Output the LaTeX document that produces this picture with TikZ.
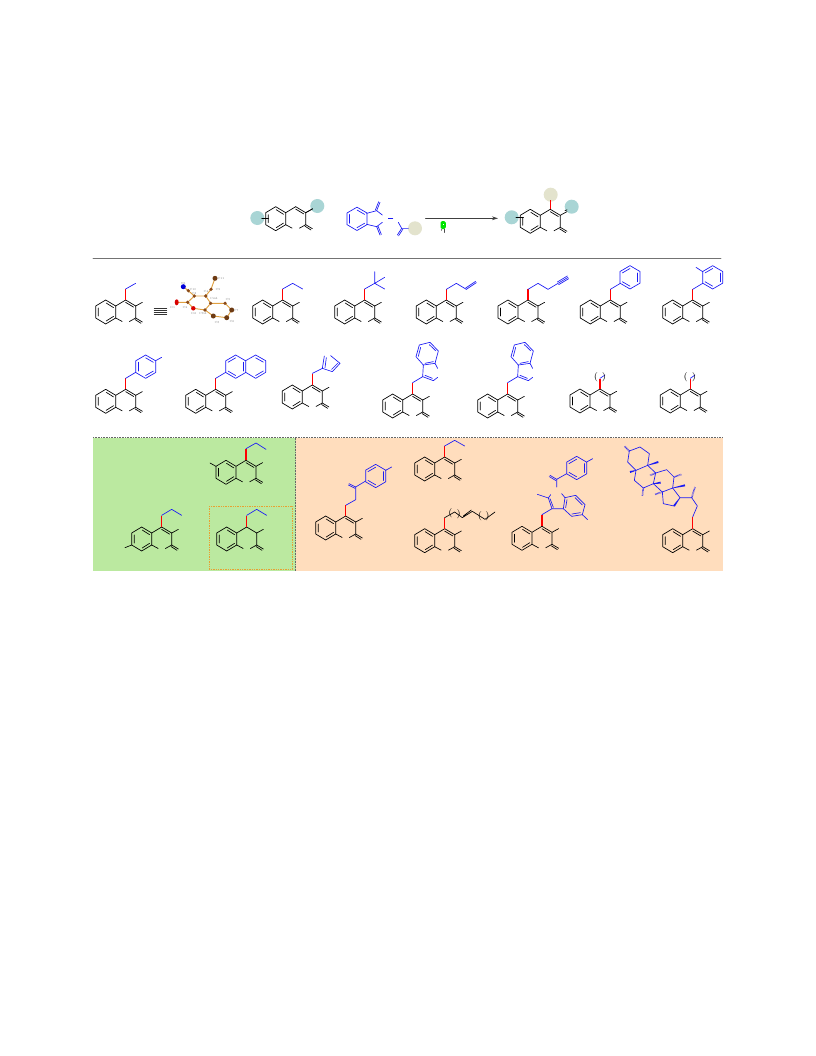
\documentclass[tikz,border=0pt]{standalone}
\usetikzlibrary{arrows.meta,calc}
\definecolor{tealc}{HTML}{A9D5D5}
\definecolor{beigec}{HTML}{E3E3CD}
\definecolor{panelg}{HTML}{BBE9A0}
\definecolor{panelo}{HTML}{FFDDBD}
\definecolor{bluec}{HTML}{1A1AF5}
\definecolor{redc}{HTML}{FF0000}
\definecolor{bondc}{HTML}{E0A040}
\definecolor{atomc}{HTML}{8A4A18}
\definecolor{boxc}{HTML}{E8A030}
\tikzset{
  zz/.style args={#1,#2}{shift={(#1,#2)},x=.25pt,y=-.25pt},
  sub/.style={bluec},
  hashb/.style={bluec,line width=1.2pt,line cap=butt,dash pattern=on .35pt off .55pt},
  crys/.style={bondc,line width=.7pt},
  lab/.style={font=\fontsize{2.2}{2.2}\selectfont,text=gray,inner sep=0pt},
  par/.style={font=\fontsize{7}{7}\selectfont,inner sep=0pt},
}
\newcommand\hexa[3][60]{%
  \draw (#2+30,#3-17.5)--(#2+30,#3+17.5)--(#2,#3+35)--(#2-30,#3+17.5)--(#2-30,#3-17.5)--(#2,#3-35)--cycle;
  \foreach \a in {30,150,270}{\draw ({#2+26.5*cos(\a+#1)},{#3+26.5*sin(\a+#1)})--({#2+26.5*cos(\a+#1+60)},{#3+26.5*sin(\a+#1+60)});}}
\newcommand\dbo[2]{\draw (#1)--(#2);\draw ($(#1)!1.1pt!90:(#2)$)--($(#2)!1.1pt!-90:(#1)$);}
\newcommand\wedgeb[2]{\fill[bluec] ($(#1)!.2pt!90:(#2)$)--($(#1)!.2pt!-90:(#2)$)--($(#2)!.75pt!90:(#1)$)--($(#2)!.75pt!-90:(#1)$)--cycle;}
\newcommand\skel{%
  \draw (0,0)--(-10,6)--(-10,18)--(-20,24)--(-30,18)--(-30,6)--(-20,0)--(-10,6);
  \draw (-12.2,7.6)--(-19.5,3) (-27.5,8)--(-27.5,16) (-12.2,16.4)--(-19.5,21);
  \draw (0,0)--(10,6)--(10,18)--(3.7,21.5);
  \draw (-10,18)--(-3.5,21.5);
  \draw (10,6)--(16.7,2.3);
  \draw (10,18)--(16.7,22) (9.3,19.5)--(15.3,23.3);}
\newcommand\core[3]{\begin{scope}[shift={(#1,#2)}]\skel
  \draw (0,2.4)--(8,7.2);
  \draw[redc,line width=1.1pt,line cap=butt] (0,0)--(0,-#3);\end{scope}}
\newcommand\coresingle[3]{\begin{scope}[shift={(#1,#2)}]\skel
  \draw[redc,line width=1.1pt,line cap=butt] (0,0)--(0,-#3);\end{scope}}
\begin{document}
\begin{tikzpicture}[x=.75pt,y=-.75pt,line width=.5pt,line cap=round,line join=round]
\useasboundingbox (0,0) rectangle (816,1056);
\fill[white] (0,0) rectangle (816,1056);
% panels
\fill[panelg] (93,437.5) rectangle (296,571);
\fill[panelo] (296,437.5) rectangle (723,571);
\draw[black!60,line cap=butt,dash pattern=on .6pt off .6pt] (93,437.5)--(723,437.5) (295.7,437.5)--(295.7,571);
\draw[boxc,line width=.6pt,line cap=butt,dash pattern=on 1pt off .8pt] (209.3,506) rectangle (292.7,569.3);
\draw[black!55,line width=.6pt] (93,258.5)--(721,258.5);
% reaction circles
\fill[tealc] (257.3,218) circle (7);
\fill[tealc] (317.3,206) circle (7);
\fill[beigec] (415,228.3) circle (7);
\fill[beigec] (550.7,194.7) circle (7);
\fill[tealc] (571.7,206.7) circle (7);
\fill[tealc] (511.7,217.3) circle (7);
\begin{scope}[shift={(295.7,206.7)}]\skel\draw (0,2.4)--(8,7.2);\draw (10,6)--(17,2);\end{scope}
\draw (261.7,218)--(268.5,218);
\core{550.3}{209.3}{9.3}
\draw (565,210.7)--(567,209.8);
\draw (516,217.3)--(523.5,217.3);
% phthalimide reagent
\begin{scope}[zz={340,195},bluec]
  \hexa[0]{51}{71.5}
  \draw (80,55)--(110,47)--(127,60) (80,88)--(110,95)--(127,82);
  \dbo{110,47}{120,22}
  \dbo{110,95}{120,120}
  \draw (145,70)--(158,70);
  \draw (175,82)--(185,100)--(205,100);
  \dbo{185,100}{172,120}
\end{scope}
% arrow and bulb
\coordinate (arrS) at (425.5,218.3);
\coordinate (arrE) at (498,218.3);
\draw[black!75,-{Stealth[length=4.5pt,width=2.8pt]},line width=.6pt] (arrS)--(arrE);
\fill[green!90!black,rounded corners=1.2pt] (440.6,229)--(440.6,221)--(445.8,221)--(445.8,229)--cycle;
\fill[white] (442.6,224) rectangle (443.8,225);
\draw[black!70] (444.2,229)--(444.2,232.5);
\draw[black!50] (441.5,229)--(441.5,230.5);
% row 1
\core{125.7}{300}{11}
\begin{scope}[zz={90,265},sub]\draw (107,72)--(137,55);\end{scope}
\foreach \y in {308.3,310.2,312.1,314}{\draw[black!80] (154.3,\y)--(166.7,\y);}
% crystal
\draw[crys] (215,278.3)--(211,289.3)--(205.7,296)--(194.3,296)--(188.3,290.7)--(183.3,286.7);
\draw[crys] (194.3,296)--(187.7,302.3)--(176.7,302.3) (187.7,302.3)--(193.3,308.3)--(205,310)--(210.7,303.3)--(205.7,296);
\draw[crys] (210.7,303.3)--(225,303.3)--(231.7,310)--(226.7,317.7)--(213.3,316)--(205,310);
\foreach \p in {(211,289.3),(205.7,296),(194.3,296),(188.3,290.7),(187.7,302.3),(205,310),(210.7,303.3),(225,303.3)}{\fill[atomc] \p circle (1.8);}
\foreach \p in {(215,278.3),(231.7,310),(226.7,317.7),(213.3,316)}{\fill[atomc!80!black] \p circle (2.5);}
\fill[blue!85!black] (183.3,286.7) circle (2.5);
\fill[red!85!black] (176.7,302.3) ellipse (2 and 3);
\fill[red!85!black] (193.3,308.3) circle (2.2);
\node[lab] (l1) at (221,278) {C11};
\node[lab] (l2) at (183.5,283) {N1};
\node[lab] (l3) at (193,289.5) {C10};
\node[lab] (l4) at (172.5,307) {O1};
\node[lab] (l5) at (185,307) {C2};
\node[lab] (l6) at (193.5,313) {O2};
\node[lab] (l7) at (206,291) {C4};
\node[lab] (l8) at (214,298) {C4A};
\node[lab] (l9) at (228,299.5) {C5};
\node[lab] (l10) at (236,310) {C7};
\node[lab] (l11) at (232,321) {C6};
\node[lab] (l12) at (217,322) {C8};
\node[lab] (l13) at (203,313.5) {C8A};
\node[lab] (l14) at (218,289) {C9};
\node[lab] (l15) at (194,293) {C3};
\core{282.7}{300}{11}
\core{364.7}{300}{11}
\core{446.3}{300}{11}
\core{528}{300}{11}
\core{610.3}{300}{11}
\core{692.7}{300}{11}
\begin{scope}[zz={90,265},sub]
  \draw (578,72)--(608,55)--(638,72);
  \draw (824,72)--(854,55) (854,20)--(854,55)--(884,37) (854,55)--(884,72);
\end{scope}
\begin{scope}[zz={410,260},sub]
  \draw (109,88)--(139,70)--(169,88);
  \dbo{169,88}{199,68}
  \draw (354,88)--(384,70)--(414,88)--(474,52);
  \draw (442,66)--(472,48) (446,74)--(476,56);
  \draw (601,88)--(631,70);
  \hexa{660}{52}
  \draw (848,88)--(878,70);
  \hexa{908}{52}
  \draw (878,35)--(858,22);
\end{scope}
% row 2
\core{125.7}{389.3}{11}
\core{215.7}{389.3}{11}
\core{312.3}{385}{11.5}
\core{412.7}{394}{11.5}
\core{507.7}{394}{11.5}
\core{600}{389}{10.5}
\core{690.3}{389}{10.5}
\begin{scope}[zz={90,335},sub]
  \draw (107,130)--(137,112);
  \hexa[0]{167}{95}
  \draw (197,77)--(215,67);
  \draw (377,130)--(407,112);
  \hexa{437}{95}
  \draw (467,77)--(497,60)--(527,77)--(527,112)--(497,130)--(467,112);
  \draw (497,68.5)--(520,81.5) (520,108)--(497,121.5);
  \draw (667,115)--(697,100)--(703,63) (722,62)--(750,85)--(727,110)--(697,100);
  \draw (705,98)--(709,68) (743,85)--(725,103);
\end{scope}
\foreach \dx in {0,285}{%
\begin{scope}[zz={370,335},sub,xshift=\dx*.25pt]
  \draw (128,143)--(158,125)--(160,90)--(195,85)--(203,100);
  \draw (203,127)--(190,137)--(158,125) (165,121)--(187,130);
  \draw (160,90)--(138,65)--(148,30)--(180,22)--(205,48)--(195,85);
  \draw (145,64)--(152,37) (178,29)--(198,48) (190,80)--(165,85);
\end{scope}}
\begin{scope}[zz={370,335},sub]
  \draw (690,130)--(705,120);
  \draw (961,130)--(975,120);
\end{scope}
\node[par] (p1) at (596,377) {(};
\node[par] (p2) at (604,377) {)};
\node[par] (p3) at (685.7,377) {(};
\node[par] (p4) at (694,377) {)};
% panel molecules, green
\core{246}{460.3}{11.5}
\core{161.7}{527}{11.5}
\coresingle{246.7}{527}{11.5}
\begin{scope}[zz={90,432}]
  \draw (378,103)--(360,93);
  \draw (125,339)--(105,347);
  \begin{scope}[sub]
    \draw (468,50)--(498,33)--(528,52);
    \draw (215,250)--(245,232)--(275,250);
    \draw (470,250)--(500,232)--(530,250);
    \draw (767,220)--(797,203)--(797,165);
    \dbo{797,165}{777,155}
    \draw (797,165)--(827,147);
    \hexa{857}{132}
    \draw (887,115)--(905,105);
  \end{scope}
\end{scope}
% panel molecules, orange
\core{345.7}{516}{11}
\core{444.7}{457}{11}
\core{444.7}{528.7}{11}
\core{542}{526.3}{11.7}
\begin{scope}[zz={400,432}]
  \begin{scope}[sub]
    \draw (134,42)--(164,25)--(194,42);
    \draw (426,248)--(456,230)--(445,198)--(452,188) (412,187)--(445,198);
    \draw (450,200)--(460,226);
    \draw (485,185)--(495,197)--(490,230)--(456,230);
    \draw (495,197)--(527,190)--(555,218)--(547,248)--(515,253)--(490,230);
    \draw (525,197)--(547,219) (541,242)--(516,246) (497,227)--(501,203);
    \draw (547,248)--(563,263);
    \draw (470,165)--(470,142)--(500,125);
    \dbo{470,142}{450,130}
    \hexa{530}{108}
    \draw (560,90)--(578,80);
  \end{scope}
  \draw (134,257)--(164,240)--(187,257);
  \draw (187,257)--(217,238) (190,252)--(214,234);
  \draw (217,238)--(255,262)--(285,240);
\end{scope}
\node[par] (p5) at (450.5,513) {(};
\node[par] (p6) at (458.7,514) {)};
\node[par] (p7) at (480,516) {(};
\node[par] (p8) at (487.5,516) {)};
% steroid
\core{692.7}{528.7}{11.7}
\begin{scope}[zz={600,432},sub]
  \draw (278,255)--(292,222)--(275,197)--(240,197);
  \draw (222,222)--(190,215)--(187,180)--(218,168)--(240,197);
  \draw (218,168)--(222,135)--(200,113)--(167,123)--(160,155)--(187,180);
  \draw (167,123)--(143,100)--(108,115)--(103,145)--(130,168)--(160,155);
  \draw (143,100)--(148,65)--(120,45)--(88,57)--(83,90)--(108,115);
  \wedgeb{240,197}{222,222}
  \wedgeb{218,168}{255,160}
  \wedgeb{160,155}{182,152}
  \wedgeb{143,100}{175,90}
  \wedgeb{108,115}{90,120}
  \draw[hashb] (275,197)--(285,165);
  \draw[hashb] (187,180)--(165,187);
  \draw[hashb] (222,135)--(245,127);
  \draw[hashb] (167,123)--(150,130);
  \draw[hashb] (130,168)--(127,192);
  \draw[hashb] (88,57)--(73,42);
\end{scope}
\end{tikzpicture}
\end{document}
